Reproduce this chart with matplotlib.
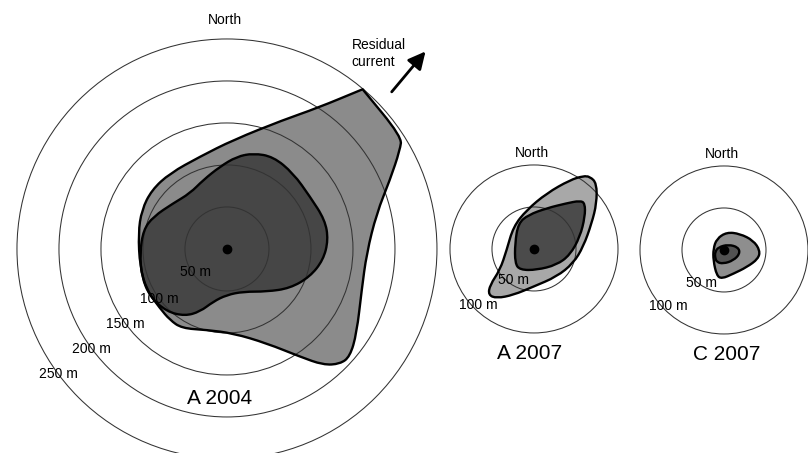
import numpy as np
import matplotlib.pyplot as plt
from matplotlib.path import Path
from matplotlib.patches import PathPatch, Circle

plt.rcParams['font.family'] = ['Liberation Sans', 'DejaVu Sans']

# outlines in metres (east, north) from each site
a04_outer_x = [161.5, 161.5, 208.0, 206.0, 194.0, 178.2, 166.3, 160.4, 154.4, 146.4, 134.5, 114.6, 86.9, 47.3, 7.5,
               -24.2, -53.9, -67.9, -79.8, -95.6, -103.6, -105.6, -101.5, -89.6, -67.9, -32.1, 7.5, 67.0, 106.8]
a04_outer_y = [190.1, 190.1, 133.7, 117.9, 82.1, 42.5, -5.1, -48.8, -100.4, -128.2, -136.9, -138.1, -128.2, -112.3, -100.4,
               -96.4, -94.4, -84.5, -70.6, -48.8, -21.1, 18.7, 46.4, 70.2, 90.1, 109.9, 129.8, 153.6, 167.5]
a04_inner_x = [31.3, 55.1, 78.9, 98.8, 116.7, 120.6, 114.6, 98.8, 75.0, 47.3, 19.4, -0.4, -16.3, -32.1, -50.0,
               -71.8, -91.7, -101.5, -103.6, -99.6, -87.7, -63.9, -44.0, -28.2, -8.3, 11.5]
a04_inner_y = [113.9, 109.9, 90.1, 62.3, 34.5, 10.7, -13.1, -33.0, -46.8, -50.8, -50.8, -54.8, -62.7, -74.6, -79.8,
               -74.6, -56.8, -33.0, -5.1, 22.6, 38.5, 54.4, 66.3, 82.1, 98.0, 109.9]

a07_outer_x = [66.7, 74.6, 74.6, 68.7, 58.7, 46.8, 27.0, -0.8, -24.6, -44.4, -54.4, -52.4, -40.5, -32.5, -24.6,
               -8.7, 15.1, 42.9, 58.7]
a07_outer_y = [86.1, 78.2, 54.4, 30.6, 2.7, -17.0, -33.0, -44.9, -54.8, -58.7, -54.8, -42.9, -25.0, -1.2, 26.5,
               46.4, 66.3, 82.1, 86.9]
a07_inner_x = [54.8, 60.7, 60.7, 54.8, 42.9, 27.0, 3.2, -16.7, -22.6, -22.6, -18.7, -6.8, 15.1, 38.9]
a07_inner_y = [57.5, 54.4, 38.5, 14.6, -7.1, -19.0, -25.0, -25.0, -17.0, 6.8, 30.6, 40.5, 48.5, 54.4]

c07_outer_x = [3.2, 19.0, 34.9, 42.9, 40.8, 27.0, 11.1, -2.7, -8.7, -12.7, -12.7, -8.7]
c07_outer_y = [21.2, 19.3, 11.3, -0.6, -10.5, -20.5, -28.3, -34.3, -30.4, -12.5, 1.4, 13.3]
c07_inner_x = [-10.7, -6.8, 5.1, 17.0, 19.0, 11.1, -0.8, -8.7, -10.7]
c07_inner_y = [-2.6, 3.3, 6.5, 3.3, -4.5, -12.5, -16.4, -14.5, -8.6]

a04_rings = [50, 100, 150, 200, 250]
a07_rings = [50, 100]
c07_rings = [50, 100]
titles = ['A 2004', 'A 2007', 'C 2007']

S = 0.84  # pixels per metre
W, H = 808, 453

fig = plt.figure(figsize=(W / 100, H / 100), dpi=100)
ax = fig.add_axes([0, 0, 1, 1])
ax.set_xlim(0, W / S)
ax.set_ylim(0, H / S)
ax.set_aspect('equal')
ax.axis('off')


def blob(cx, cy, xs, ys, color):
    pts = np.column_stack([np.array(xs) + cx, np.array(ys) + cy])
    n = len(pts)
    mids = (pts + np.roll(pts, -1, axis=0)) / 2
    verts = [mids[-1]]
    codes = [Path.MOVETO]
    for i in range(n):
        verts += [pts[i], mids[i]]
        codes += [Path.CURVE3, Path.CURVE3]
    path = Path(verts, codes)
    ax.add_patch(PathPatch(path, facecolor=color, edgecolor='none', zorder=1))
    ax.add_patch(PathPatch(path, facecolor='none', edgecolor='black', lw=1.7,
                           joinstyle='round', zorder=3))


panels = [
    # centre (m), rings, label angles, title offset, north offset, outer, inner, colours
    dict(c=(270.2, 242.9), rings=a04_rings, ang=[216.5] * 5, rf=[0.93, 1.0, 1.0, 1.0, 1.0],
         title=(-8.9, -178.6), north=(-2.4, 272.6),
         outer=(a04_outer_x, a04_outer_y), inner=(a04_inner_x, a04_inner_y), cols=('#8b8b8b', '#464646')),
    dict(c=(635.7, 242.9), rings=a07_rings, ang=[235.9, 225.4], rf=[0.89, 0.94],
         title=(-4.8, -125.0), north=(-2.7, 114.3),
         outer=(a07_outer_x, a07_outer_y), inner=(a07_inner_x, a07_inner_y), cols=('#a8a8a8', '#4b4b4b')),
    dict(c=(861.9, 241.7), rings=c07_rings, ang=[234.9, 225.4], rf=[0.95, 0.94],
         title=(2.7, -124.4), north=(-2.7, 113.7),
         outer=(c07_outer_x, c07_outer_y), inner=(c07_inner_x, c07_inner_y), cols=('#8e8e8e', '#525252')),
]

for p, name in zip(panels, titles):
    cx, cy = p['c']
    blob(cx, cy, *p['outer'], p['cols'][0])
    blob(cx, cy, *p['inner'], p['cols'][1])
    for r in p['rings']:
        ax.add_patch(Circle((cx, cy), r, fill=False, ec='#333333', lw=0.75, zorder=2))
    for r, a, f in zip(p['rings'], p['ang'], p['rf']):
        t = np.deg2rad(a)
        ax.text(cx + f * r * np.cos(t), cy + f * r * np.sin(t), f'{r} m',
                ha='center', va='center', fontsize=10, zorder=4)
    ax.plot(cx, cy, 'o', color='black', ms=6, zorder=5)
    ax.text(cx + p['title'][0], cy + p['title'][1], name, ha='center', va='center', fontsize=15)
    ax.text(cx + p['north'][0], cy + p['north'][1], 'North', ha='center', va='center', fontsize=10)

# residual current arrow
cx, cy = panels[0]['c']
ax.annotate('', xy=(cx + 238.5, cy + 237.7), xytext=(cx + 194.0, cy + 184.5),
            arrowprops=dict(arrowstyle='-|>', color='black', lw=2, mutation_scale=26))
ax.text(cx + 148.5, cy + 232.7, 'Residual\ncurrent', ha='left', va='center', fontsize=10, linespacing=1.25)

fig.savefig('out.png', dpi=100)
